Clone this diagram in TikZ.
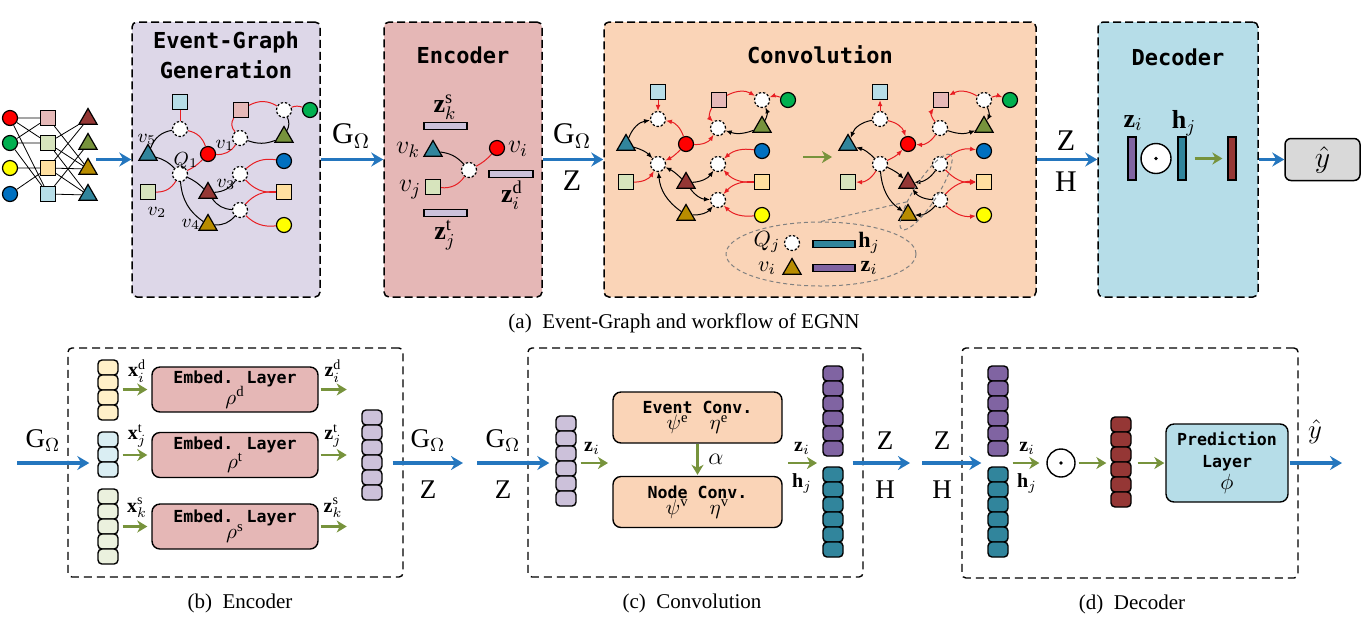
\RequirePackage{fix-cm}
\documentclass[tikz,border=0pt]{standalone}
\usepackage{fontspec}
\setmainfont{Liberation Serif}
\newfontfamily\codefont{DejaVu Sans Mono}
\usetikzlibrary{arrows.meta, positioning, shapes.geometric}

\definecolor{boxlav}{RGB}{221,215,232}
\definecolor{boxrose}{RGB}{229,183,182}
\definecolor{boxpeach}{RGB}{250,212,183}
\definecolor{boxblue}{RGB}{182,221,232}
\definecolor{boxgray}{RGB}{217,217,217}
\definecolor{cred}{RGB}{255,0,0}
\definecolor{cgreen}{RGB}{0,176,80}
\definecolor{cyellow}{RGB}{255,255,0}
\definecolor{cblue}{RGB}{0,112,192}
\definecolor{sqpink}{RGB}{230,185,184}
\definecolor{sqgreen}{RGB}{215,228,189}
\definecolor{sqyellow}{RGB}{255,224,160}
\definecolor{sqblue}{RGB}{183,222,232}
\definecolor{trired}{RGB}{149,55,53}
\definecolor{triolive}{RGB}{119,147,60}
\definecolor{trigold}{RGB}{184,140,0}
\definecolor{triteal}{RGB}{49,133,156}
\definecolor{cellyellow}{RGB}{255,240,200}
\definecolor{cellblue}{RGB}{218,238,243}
\definecolor{cellgreen}{RGB}{235,241,222}
\definecolor{celllav}{RGB}{204,193,218}
\definecolor{cellpurple}{RGB}{128,100,162}
\definecolor{cellteal}{RGB}{49,133,156}
\definecolor{cellred}{RGB}{149,55,53}
\definecolor{edgered}{RGB}{232,30,35}
\definecolor{flowblue}{RGB}{36,118,190}
\definecolor{flowgreen}{RGB}{119,147,60}

\tikzset{
  bigbox/.style={draw, line width=0.75pt, dash pattern=on 4pt off 2pt, rounded corners=2.5pt},
  panel/.style={draw, line width=0.7pt, dash pattern=on 4pt off 2.5pt, rounded corners=2pt},
  title/.style={font=\codefont\bfseries\fontsize{11}{15}\selectfont, align=center},
  cnode/.style={circle, draw, line width=0.6pt, minimum size=7.5pt, inner sep=0pt},
  snode/.style={rectangle, draw, line width=0.6pt, minimum size=7.5pt, inner sep=0pt},
  tnode/.style={regular polygon, regular polygon sides=3, draw, line width=0.6pt, minimum size=10.5pt, inner sep=0pt},
  evt/.style={circle, draw, dash pattern=on 1.2pt off 0.9pt, fill=white, line width=0.6pt, minimum size=7.5pt, inner sep=0pt},
  redge/.style={draw=edgered, line width=0.5pt},
  bedge/.style={draw=black, line width=0.5pt},
  flow/.style={draw=flowblue, line width=1.6pt, -{Stealth[length=6pt, width=7pt, inset=2pt]}},
  gflow/.style={draw=flowgreen, line width=1.3pt, -{Stealth[length=5pt, width=6pt, inset=1.5pt]}},
  cell/.style={draw, rounded corners=2pt, line width=0.7pt, minimum width=10pt, minimum height=7.5pt, inner sep=0pt},
  layerbox/.style={draw, rounded corners=4pt, line width=0.7pt, align=center, inner sep=0pt},
  bar/.style={draw, line width=0.6pt, inner sep=0pt},
  biglbl/.style={inner sep=0pt, font=\fontsize{15}{17}\selectfont},
  midlbl/.style={inner sep=0pt, font=\fontsize{13.5}{15}\selectfont},
  lbl/.style={inner sep=0pt, font=\fontsize{13}{15}\selectfont},
  smalllbl/.style={inner sep=0pt, font=\fontsize{10}{12}\selectfont},
  vlbl/.style={inner sep=0pt, font=\fontsize{9.5}{11}\selectfont},
  subcap/.style={inner sep=0pt, font=\fontsize{10.5}{12}\selectfont},
}

% column of cells: name, x, top y, count, colour
\newcommand{\cellstack}[5]{%
  \foreach \k in {1,...,#4}
    \node[cell, fill=#5] (#1-\k) at (#2, {#3 + 15*\k - 7.5}) {};
}

% event graph: prefix, x and y of Q1, edge tips
\newcommand{\eventgraph}[4]{%
  \begin{scope}[shift={(#2,#3)}]
    \node[snode, fill=sqblue] (#1-sb) at (0,-72) {};
    \node[evt] (#1-e1) at (0,-45) {};
    \node[tnode, fill=triteal] (#1-tt) at (-32,-19) {};
    \node[cnode, fill=cred] (#1-cr) at (28,-20) {};
    \node[evt] (#1-q) at (0,0) {};
    \node[snode, fill=sqgreen] (#1-sg) at (-32,18) {};
    \node[tnode, fill=trired] (#1-tr) at (28,19) {};
    \node[tnode, fill=trigold] (#1-tg) at (28,51) {};
    \node[snode, fill=sqpink] (#1-sp) at (61,-64) {};
    \node[evt] (#1-e2) at (104,-64) {};
    \node[cnode, fill=cgreen] (#1-cg) at (130,-64) {};
    \node[evt] (#1-e3) at (60,-36) {};
    \node[tnode, fill=triolive] (#1-to) at (104,-37) {};
    \node[cnode, fill=cblue] (#1-cb) at (104,-13) {};
    \node[evt] (#1-e4) at (60,0) {};
    \node[snode, fill=sqyellow] (#1-sy) at (104,18) {};
    \node[evt] (#1-e5) at (60,36) {};
    \node[cnode, fill=cyellow] (#1-cy) at (104,51) {};
  \end{scope}
  \draw[#4, redge] (#1-sb) -- (#1-e1);
  \draw[#4, bedge] (#1-tt) to[bend left=30] (#1-e1);
  \draw[#4, redge] (#1-cr) to[bend right=30] (#1-e1);
  \draw[#4, bedge] (#1-tt) to[bend left=15] (#1-q);
  \draw[#4, redge] (#1-sg) to[bend right=30] (#1-q);
  \draw[#4, redge] (#1-cr) to[bend left=10] (#1-q);
  \draw[#4, bedge] (#1-tr) to[bend right=10] (#1-q);
  \draw[#4, bedge] (#1-tg) to[bend left=25] (#1-q);
  \draw[#4, redge] (#1-cr) to[bend right=30] (#1-e3);
  \draw[#4, redge] (#1-sp) to[bend right=40] (#1-e3);
  \draw[#4, redge] (#1-sp) to[bend left=30] (#1-e2);
  \draw[#4, redge] (#1-cg) to[bend right=20] (#1-e2);
  \draw[#4, bedge] (#1-to) to[bend right=25] (#1-e2);
  \draw[#4, bedge] (#1-to) to[bend left=20] (#1-e3);
  \draw[#4, redge] (#1-cb) to[bend right=25] (#1-e4);
  \draw[#4, redge] (#1-sy) to[bend left=25] (#1-e4);
  \draw[#4, bedge] (#1-tr) to[bend right=25] (#1-e4);
  \draw[#4, bedge] (#1-tr) to[bend right=25] (#1-e5);
  \draw[#4, redge] (#1-sy) to[bend right=25] (#1-e5);
  \draw[#4, redge] (#1-cy) to[bend left=25] (#1-e5);
  \draw[#4, bedge] (#1-tg) to[bend right=25] (#1-e5);
}

\begin{document}
\begin{tikzpicture}[x=0.5pt, y=-0.5pt, >={Latex[length=3pt, width=2.4pt]}]
\useasboundingbox (0,0) rectangle (1368,617);

% ---------------- TOP ROW ----------------

% INPUT GRAPH
\node[cnode, fill=cred] (in1) at (10,118) {};
\node[cnode, fill=cgreen] (in2) at (10,143) {};
\node[cnode, fill=cyellow] (in3) at (10,168) {};
\node[cnode, fill=cblue] (in4) at (10,194) {};
\node[snode, fill=sqpink] (im1) at (48,118) {};
\node[snode, fill=sqgreen] (im2) at (48,143) {};
\node[snode, fill=sqyellow] (im3) at (48,168) {};
\node[snode, fill=sqblue] (im4) at (48,194) {};
\node[tnode, fill=trired] (io1) at (88,119) {};
\node[tnode, fill=triolive] (io2) at (88,144) {};
\node[tnode, fill=trigold] (io3) at (88,169) {};
\node[tnode, fill=triteal] (io4) at (88,195) {};
\draw[line width=0.4pt] (in1) -- (im1) (in1) -- (im2) (in1) -- (im4)
  (in2) -- (im1) (in2) -- (im2) (in2) -- (im4) (in3) -- (im3) (in4) -- (im3);
\draw[line width=0.4pt] (im1) -- (io3) (im2) -- (io1) (im2) -- (io3) (im2) -- (io4)
  (im3) -- (io1) (im3) -- (io3) (im3) -- (io4) (im4) -- (io2) (im4) -- (io4);

% BOXES
\node[bigbox, fill=boxlav, minimum width=94pt, minimum height=137.5pt] (egg) at (226,159.5) {};
\node[bigbox, fill=boxrose, minimum width=79pt, minimum height=137.5pt] (enc) at (463,159.5) {};
\node[bigbox, fill=boxpeach, minimum width=216pt, minimum height=137.5pt] (conv) at (820,159.5) {};
\node[bigbox, fill=boxblue, minimum width=80pt, minimum height=137.5pt] (dec) at (1178,159.5) {};
\node[draw, rounded corners=3pt, fill=boxgray, line width=0.75pt, minimum width=37.5pt, minimum height=21pt, font=\fontsize{15}{17}\selectfont] (yhat) at (1322.5,159.5) {$\hat{y}$};

\node[title] (egg-t) at (226,55) {Event-Graph\\Generation};
\node[title] (enc-t) at (463,55) {Encoder};
\node[title] (conv-t) at (820,55) {Convolution};
\node[title] (dec-t) at (1178,57) {Decoder};

% EVENT GRAPH GENERATION
\eventgraph{g}{180}{174}{-}
\node[vlbl] (g-l5) at (147,139) {$v_5$};
\node[vlbl] (g-l1) at (225,145) {$v_1$};
\node[vlbl] (g-lq) at (186,161) {$Q_1$};
\node[vlbl] (g-l2) at (157,212) {$v_2$};
\node[vlbl] (g-l3) at (226,184) {$v_3$};
\node[vlbl] (g-l4) at (191,224) {$v_4$};

% ENCODER
\node[lbl] (enc-zs) at (445,107) {$\mathbf{z}_k^{\mathrm{s}}$};
\node[bar, fill=celllav, minimum width=21.5pt, minimum height=3.5pt] (enc-bs) at (445.5,126) {};
\node[tnode, fill=triteal] (enc-vk) at (433,151) {};
\node[lbl] (enc-vkl) at (408,150) {$v_k$};
\node[evt] (enc-e) at (469,170) {};
\node[cnode, fill=cred] (enc-vi) at (497,148) {};
\node[lbl] (enc-vil) at (518,149) {$v_i$};
\node[bar, fill=celllav, minimum width=22pt, minimum height=3.5pt] (enc-bd) at (511,174) {};
\node[lbl] (enc-zd) at (512,195) {$\mathbf{z}_i^{\mathrm{d}}$};
\node[snode, fill=sqgreen] (enc-vj) at (433,187) {};
\node[lbl] (enc-vjl) at (410,190) {$v_j$};
\node[bar, fill=celllav, minimum width=21.5pt, minimum height=3.5pt] (enc-bt) at (445.5,213) {};
\node[lbl] (enc-zt) at (445,235) {$\mathbf{z}_j^{\mathrm{t}}$};
\draw[bedge] (enc-vk) to[bend left=20] (enc-e);
\draw[redge] (enc-vj) to[bend right=30] (enc-e);
\draw[redge] (enc-vi) to[bend left=10] (enc-e);

% CONVOLUTION
\eventgraph{cl}{658}{164}{->}
\eventgraph{cr}{880}{164}{<-}
\coordinate (cv-a) at (803,157);
\coordinate (cv-b) at (832,157);
\draw[gflow] (cv-a) -- (cv-b);
\node[ellipse, draw=gray, dash pattern=on 2pt off 1.5pt, line width=0.5pt, minimum width=95pt, minimum height=32pt] (legend) at (821,254) {};
\node[ellipse, draw=gray, dash pattern=on 2pt off 1.5pt, line width=0.5pt, minimum width=44.5pt, minimum height=11.5pt, inner sep=0pt, rotate=57] (zoomin) at (926,192) {};
\draw[gray, dash pattern=on 2pt off 1.5pt, line width=0.5pt] (legend.north) -- (zoomin.150);
\node[smalllbl, font=\fontsize{11}{13}\selectfont] (lg-q) at (767,242) {$Q_j$};
\node[evt] (lg-e) at (792,243) {};
\node[bar, fill=cellteal, minimum width=21pt, minimum height=3.5pt] (lg-h) at (834,244) {};
\node[smalllbl, font=\fontsize{11}{13}\selectfont] (lg-hl) at (869,243) {$\mathbf{h}_j$};
\node[smalllbl, font=\fontsize{11}{13}\selectfont] (lg-v) at (767,268) {$v_i$};
\node[tnode, fill=trigold] (lg-t) at (792,269) {};
\node[bar, fill=cellpurple, minimum width=21pt, minimum height=3.5pt] (lg-z) at (834,268) {};
\node[smalllbl, font=\fontsize{11}{13}\selectfont] (lg-zl) at (869,268) {$\mathbf{z}_i$};

% DECODER
\node[bar, fill=cellpurple, minimum width=4pt, minimum height=21.5pt] (dec-z) at (1132,158.5) {};
\node[lbl] (dec-zl) at (1133,123) {$\mathbf{z}_i$};
\node[circle, draw, fill=white, line width=0.7pt, minimum size=15pt, inner sep=0pt] (dec-dot) at (1156,158.5) {};
\fill (dec-dot) circle[radius=0.9pt];
\node[bar, fill=cellteal, minimum width=4pt, minimum height=21.5pt] (dec-h) at (1182,158.5) {};
\node[lbl] (dec-hl) at (1184,123) {$\mathbf{h}_j$};
\node[bar, fill=cellred, minimum width=4pt, minimum height=21.5pt] (dec-o) at (1232,158.5) {};
\draw[gflow, shorten <=4pt, shorten >=2.5pt] (dec-h) -- (dec-o);

% TOP ARROWS
\coordinate (in-end) at (96,159.5);
\draw[flow] (in-end) -- (egg.west);
\draw[flow] (egg.east) -- (enc.west);
\draw[flow] (enc.east) -- (conv.west);
\draw[flow] (conv.east) -- (dec.west);
\draw[flow] (dec.east) -- (yhat.west);
\node[biglbl] (a-g1) at (351,136) {$\mathrm{G}_{\Omega}$};
\node[biglbl] (a-g2) at (572,136) {$\mathrm{G}_{\Omega}$};
\node[biglbl] (a-z1) at (572,181) {$\mathrm{Z}$};
\node[biglbl] (a-z2) at (1066,141) {$\mathrm{Z}$};
\node[biglbl] (a-h1) at (1066,182) {$\mathrm{H}$};

\node[subcap] (capa) at (684,323) {(a)\enspace Event-Graph and workflow of EGNN};

% ---------------- BOTTOM ROW ----------------

\node[panel, minimum width=167.5pt, minimum height=114.5pt] (benc) at (235.5,462.5) {};
\node[panel, minimum width=167.5pt, minimum height=114.5pt] (bconv) at (695.5,462.5) {};
\node[panel, minimum width=168pt, minimum height=115pt] (bdec) at (1130,463) {};

% ENCODER (b)
\cellstack{xd}{108}{360}{4}{cellyellow}
\cellstack{xt}{108}{432}{3}{cellblue}
\cellstack{xs}{108}{489}{5}{cellgreen}
\cellstack{ze}{372}{410}{6}{celllav}
\node[layerbox, fill=boxrose, minimum width=83pt, minimum height=22.5pt, font=\codefont\bfseries\fontsize{8.3}{9}\selectfont] (rho-d) at (235,389.5)
  {Embed. Layer\\[-1pt]{\fontsize{10.5}{11}\selectfont$\rho^{\mathrm{d}}$}};
\node[layerbox, fill=boxrose, minimum width=83pt, minimum height=22.5pt, font=\codefont\bfseries\fontsize{8.3}{9}\selectfont] (rho-t) at (235,455)
  {Embed. Layer\\[-1pt]{\fontsize{10.5}{11}\selectfont$\rho^{\mathrm{t}}$}};
\node[layerbox, fill=boxrose, minimum width=83pt, minimum height=22.5pt, font=\codefont\bfseries\fontsize{8.3}{9}\selectfont] (rho-s) at (235,526.5)
  {Embed. Layer\\[-1pt]{\fontsize{10.5}{11}\selectfont$\rho^{\mathrm{s}}$}};
\draw[gflow, shorten <=2pt, shorten >=2pt] (rho-d.west -| xd-1.east) -- (rho-d.west);
\draw[gflow, shorten <=2pt, shorten >=2pt] (rho-t.west -| xt-1.east) -- (rho-t.west);
\draw[gflow, shorten <=2pt, shorten >=2pt] (rho-s.west -| xs-1.east) -- (rho-s.west);
\draw[gflow, shorten <=1pt] (rho-d.east) -- ++(28,0);
\draw[gflow, shorten <=1pt] (rho-t.east) -- ++(28,0);
\draw[gflow, shorten <=1pt] (rho-s.east) -- ++(28,0);
\node[smalllbl] (l-xd) at (137,371) {$\mathbf{x}_i^{\mathrm{d}}$};
\node[smalllbl] (l-xt) at (137,436) {$\mathbf{x}_j^{\mathrm{t}}$};
\node[smalllbl] (l-xs) at (137,508) {$\mathbf{x}_k^{\mathrm{s}}$};
\node[smalllbl] (l-zd) at (333,371) {$\mathbf{z}_i^{\mathrm{d}}$};
\node[smalllbl] (l-zt) at (333,436) {$\mathbf{z}_j^{\mathrm{t}}$};
\node[smalllbl] (l-zs) at (333,508) {$\mathbf{z}_k^{\mathrm{s}}$};

\coordinate (enc-in) at (17,463);
\coordinate (enc-out) at (463,463);
\draw[flow, shorten >=4pt] (enc-in) -- (enc-in -| xt-1.west);
\draw[flow, shorten <=5pt] (enc-out -| ze-1.east) -- (enc-out);
\node[midlbl] (b-g1) at (43,441) {$\mathrm{G}_{\Omega}$};
\node[midlbl] (b-g2) at (428,441) {$\mathrm{G}_{\Omega}$};
\node[midlbl] (b-z1) at (428,490) {$\mathrm{Z}$};
\node[subcap] (capb) at (240,603) {(b)\enspace Encoder};

% CONVOLUTION (c)
\cellstack{zc}{566}{416}{6}{celllav}
\cellstack{zp}{833}{366}{6}{cellpurple}
\cellstack{hp}{833}{467}{6}{cellteal}
\node[layerbox, fill=boxpeach, minimum width=84.5pt, minimum height=25.5pt, font=\codefont\bfseries\fontsize{8.3}{9}\selectfont] (evc) at (697.5,417.5)
  {Event Conv.\\[-1pt]{\fontsize{10.5}{11}\selectfont$\psi^{\mathrm{e}}\quad\eta^{\mathrm{e}}$}};
\node[layerbox, fill=boxpeach, minimum width=84.5pt, minimum height=25.5pt, font=\codefont\bfseries\fontsize{8.3}{9}\selectfont] (ndc) at (697.5,502)
  {Node Conv.\\[-1pt]{\fontsize{10.5}{11}\selectfont$\psi^{\mathrm{v}}\quad\eta^{\mathrm{v}}$}};
\draw[gflow, shorten >=0.5pt] (evc.south) -- (ndc.north);
\node[smalllbl, font=\fontsize{12}{14}\selectfont] (l-al) at (716,459) {$\alpha$};
\coordinate (conv-in) at (477,463);
\coordinate (conv-mid) at (608,463);
\coordinate (conv-a) at (788,463);
\coordinate (conv-b) at (817,463);
\coordinate (conv-out) at (910,463);
\draw[flow, shorten >=3pt] (conv-in) -- (conv-in -| zc-1.west);
\draw[gflow, shorten <=2pt] (conv-mid -| zc-1.east) -- (conv-mid);
\draw[gflow] (conv-a) -- (conv-b);
\draw[flow, shorten <=4.5pt] (conv-out -| zp-1.east) -- (conv-out);
\node[smalllbl] (l-zc) at (592,448) {$\mathbf{z}_i$};
\node[smalllbl] (l-zc2) at (802,448) {$\mathbf{z}_i$};
\node[smalllbl] (l-hc) at (802,483) {$\mathbf{h}_j$};
\node[midlbl] (c-g) at (503,441) {$\mathrm{G}_{\Omega}$};
\node[midlbl] (c-z) at (503,490) {$\mathrm{Z}$};
\node[midlbl] (c-z2) at (885,441) {$\mathrm{Z}$};
\node[midlbl] (c-h) at (885,490) {$\mathrm{H}$};
\node[subcap] (capc) at (692,603) {(c)\enspace Convolution};

% DECODER (d)
\cellstack{dp}{998}{366}{6}{cellpurple}
\cellstack{dh}{998}{467}{6}{cellteal}
\cellstack{dr}{1121}{417}{6}{cellred}
\node[circle, draw, fill=white, line width=0.7pt, minimum size=14pt, inner sep=0pt] (b-dot) at (1061,463) {};
\fill (b-dot) circle[radius=0.9pt];
\node[layerbox, fill=boxblue, minimum width=61pt, minimum height=39pt, font=\codefont\bfseries\fontsize{8.3}{11}\selectfont] (pred) at (1227,463)
  {Prediction\\Layer\\{\fontsize{11}{11}\selectfont$\phi$}};
\coordinate (dec-in) at (922,463);
\coordinate (dec-out) at (1342,463);
\draw[flow, shorten >=3pt] (dec-in) -- (dec-in -| dp-1.west);
\draw[gflow, shorten <=2pt, shorten >=3.5pt] (dec-in -| dp-1.east) -- (b-dot);
\draw[gflow, shorten <=1.5pt, shorten >=2pt] (b-dot) -- (b-dot -| dr-1.west);
\draw[gflow, shorten <=3pt, shorten >=0.5pt] (b-dot -| dr-1.east) -- (pred.west);
\draw[flow, shorten <=0.5pt] (pred.east) -- (dec-out);
\node[smalllbl] (l-zd2) at (1027,448) {$\mathbf{z}_i$};
\node[smalllbl] (l-hd) at (1027,483) {$\mathbf{h}_j$};
\node[midlbl] (d-z) at (942,441) {$\mathrm{Z}$};
\node[midlbl] (d-h) at (942,490) {$\mathrm{H}$};
\node[midlbl] (d-y) at (1315,432) {$\hat{y}$};
\node[subcap] (capd) at (1132,604) {(d)\enspace Decoder};

\end{tikzpicture}
\end{document}
